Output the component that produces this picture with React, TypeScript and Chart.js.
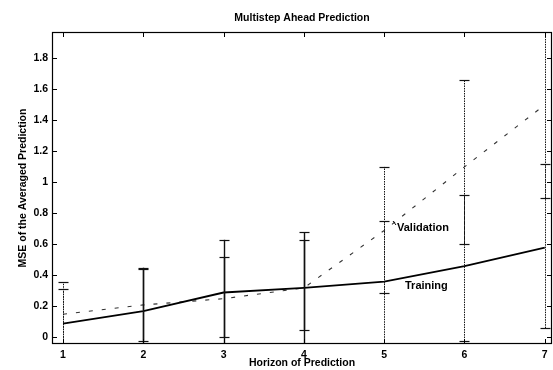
import React, { useEffect, useRef } from 'react';
import { Chart, registerables } from 'chart.js';

Chart.register(...registerables);

const titleText = 'Multistep Ahead Prediction';
const xTitle = 'Horizon of Prediction';
const yTitle = 'MSE of the Averaged Prediction';

const horizons = [1, 2, 3, 4, 5, 6, 7];
const xTicks = [1, 2, 3, 4, 5, 6, 7];
const yTicks = [0, 0.2, 0.4, 0.6, 0.8, 1, 1.2, 1.4, 1.6, 1.8];

const trainingMse = [0.09, 0.17, 0.29, 0.32, 0.36, 0.46, 0.58];
const trainingLow = [-0.13, -0.11, 0.0, 0.05, -0.05, -0.02, 0.06];
const trainingHigh = [0.31, 0.45, 0.52, 0.63, 0.75, 0.92, 1.12];

const validationMse = [0.15, 0.21, 0.25, 0.32, 0.69, 1.1, 1.5];
const validationLow = [-0.05, -0.02, -0.13, -0.04, 0.29, 0.6, 0.9];
const validationHigh = [0.355, 0.44, 0.63, 0.68, 1.1, 1.66, 2.1];

const FONT = '"Liberation Sans", Arial, Helvetica, sans-serif';

export default function App() {
  const ref = useRef<HTMLCanvasElement | null>(null);

  useEffect(() => {
    document.body.style.margin = '0';
    const canvas = ref.current;
    if (!canvas) return;

    const dottedBar = [true, false, false, false, true, true, true];

    const decor = {
      id: 'decor',
      afterDatasetsDraw(chart: any) {
        const { ctx, chartArea: a, scales } = chart;
        const xs = scales.x;
        const ys = scales.y;
        ctx.save();
        ctx.beginPath();
        ctx.rect(a.left, a.top, a.right - a.left, a.bottom - a.top);
        ctx.clip();
        const drawBars = (low: number[], high: number[]) => {
          horizons.forEach((h, i) => {
            const px = Math.round(xs.getPixelForValue(h)) + 0.5;
            const y1 = ys.getPixelForValue(low[i]);
            const y2 = ys.getPixelForValue(high[i]);
            ctx.strokeStyle = '#111';
            ctx.lineWidth = dottedBar[i] ? 1 : 1.4;
            ctx.setLineDash(dottedBar[i] ? [1.5, 1] : []);
            ctx.beginPath();
            ctx.moveTo(px, y1);
            ctx.lineTo(px, y2);
            ctx.stroke();
            ctx.setLineDash([]);
            ctx.lineWidth = 1.2;
            [y1, y2].forEach((yy) => {
              ctx.beginPath();
              ctx.moveTo(px - 5, Math.round(yy) + 0.5);
              ctx.lineTo(px + 5, Math.round(yy) + 0.5);
              ctx.stroke();
            });
          });
        };
        drawBars(validationLow, validationHigh);
        drawBars(trainingLow, trainingHigh);
        ctx.restore();
      },
      afterDraw(chart: any) {
        const { ctx, chartArea: a, scales } = chart;
        const xs = scales.x;
        const ys = scales.y;
        ctx.save();
        ctx.strokeStyle = '#000';
        ctx.lineWidth = 1.2;
        ctx.strokeRect(a.left + 0.5, a.top + 0.5, a.right - a.left - 1, a.bottom - a.top - 1);
        ctx.lineWidth = 1;
        xTicks.forEach((v) => {
          const px = Math.round(xs.getPixelForValue(v)) + 0.5;
          ctx.beginPath();
          ctx.moveTo(px, a.bottom);
          ctx.lineTo(px, a.bottom - 5);
          ctx.moveTo(px, a.top);
          ctx.lineTo(px, a.top + 5);
          ctx.stroke();
        });
        yTicks.forEach((v) => {
          const py = Math.round(ys.getPixelForValue(v)) + 0.5;
          ctx.beginPath();
          ctx.moveTo(a.left, py);
          ctx.lineTo(a.left + 5, py);
          ctx.moveTo(a.right, py);
          ctx.lineTo(a.right - 5, py);
          ctx.stroke();
        });
        ctx.fillStyle = '#000';
        ctx.textAlign = 'center';
        ctx.textBaseline = 'middle';
        ctx.font = `bold 10.5px ${FONT}`;
        const cx = (a.left + a.right) / 2;
        ctx.fillText(titleText, cx, 18);
        ctx.fillText(xTitle, cx, 363);
        ctx.save();
        ctx.translate(23, (a.top + a.bottom) / 2);
        ctx.rotate(-Math.PI / 2);
        ctx.fillText(yTitle, 0, 0);
        ctx.restore();
        ctx.textAlign = 'left';
        ctx.font = `bold 11px ${FONT}`;
        ctx.fillText('Validation', 397, 228);
        ctx.fillText('Training', 405, 286);
        ctx.lineWidth = 1;
        ctx.beginPath();
        ctx.moveTo(393, 221);
        ctx.lineTo(396, 225);
        ctx.stroke();
        ctx.restore();
      },
    };

    const chart = new Chart(canvas, {
      type: 'line',
      data: {
        datasets: [
          {
            label: 'Training',
            data: horizons.map((x, i) => ({ x, y: trainingMse[i] })),
            borderColor: '#000',
            borderWidth: 1.8,
            pointRadius: 0,
            tension: 0,
          },
          {
            label: 'Validation',
            data: horizons.map((x, i) => ({ x, y: validationMse[i] })),
            borderColor: '#333',
            borderWidth: 1.1,
            borderDash: [4, 9],
            pointRadius: 0,
            tension: 0,
          },
        ],
      },
      options: {
        responsive: false,
        animation: false,
        layout: { padding: { top: 32, right: 1, left: 0, bottom: 0 } },
        plugins: {
          legend: { display: false },
          tooltip: { enabled: false },
          title: { display: false },
        },
        scales: {
          x: {
            type: 'linear',
            min: 0.863,
            max: 7.09,
            afterBuildTicks: (s: any) => {
              s.ticks = xTicks.map((v) => ({ value: v }));
            },
            afterFit: (s: any) => {
              s.height = 26;
            },
            grid: { display: false, drawTicks: false },
            border: { display: false },
            ticks: {
              autoSkip: false,
              maxRotation: 0,
              padding: 5,
              color: '#000',
              font: { family: FONT, size: 10.5, weight: 'bold' },
              callback: (v: any) => String(v),
            },
          },
          y: {
            type: 'linear',
            min: -0.042,
            max: 1.97,
            afterBuildTicks: (s: any) => {
              s.ticks = yTicks.map((v) => ({ value: v }));
            },
            afterFit: (s: any) => {
              s.width = 52;
            },
            grid: { display: false, drawTicks: false },
            border: { display: false },
            ticks: {
              autoSkip: false,
              padding: 4,
              color: '#000',
              font: { family: FONT, size: 10.5, weight: 'bold' },
              callback: (v: any) => String(Math.round(Number(v) * 10) / 10),
            },
          },
        },
      },
      plugins: [decor],
    });

    return () => chart.destroy();
  }, []);

  return (
    <div style={{ width: 553, height: 370 }}>
      <canvas ref={ref} width={553} height={370} style={{ display: 'block', width: 553, height: 370 }} />
    </div>
  );
}
